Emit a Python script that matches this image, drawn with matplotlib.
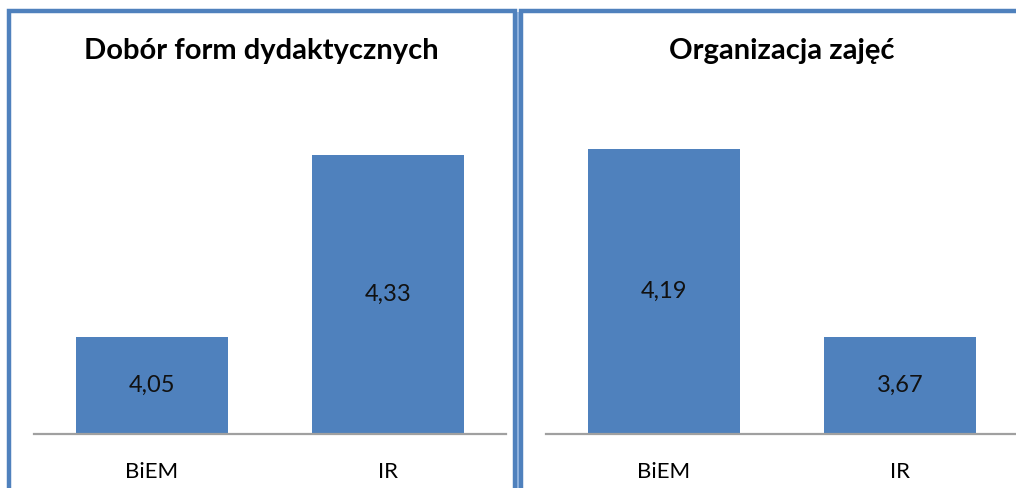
import matplotlib.pyplot as plt
from matplotlib.patches import Rectangle

# data
categories = ['BiEM', 'IR']
dobor_values = [4.05, 4.33]
organizacja_values = [4.19, 3.67]
titles = ['Dobór form dydaktycznych', 'Organizacja zajęć']
labels_dobor = ['4,05', '4,33']
labels_org = ['4,19', '3,67']

W, H = 1016, 488
fig = plt.figure(figsize=(W / 100, H / 100), dpi=100)
plt.rcParams['font.family'] = ['Lato', 'DejaVu Sans']

bar_colour = '#4F81BD'
border_colour = '#4F81BD'


def px(x0, y0, x1, y1):
    # pixel box (top-left origin) -> figure fraction rect
    return [x0 / W, 1 - y1 / H, (x1 - x0) / W, (y1 - y0) / H]


# panel borders
for (x0, x1) in [(8.5, 515), (521, 1030)]:
    fig.patches.append(Rectangle((x0 / W, -0.1), (x1 - x0) / W, 1 - 10.5 / H + 0.1,
                                 transform=fig.transFigure, fill=False,
                                 edgecolor=border_colour, linewidth=3.2))
fig.patches.append(Rectangle((517 / W, 0), 2 / W, 1 - 12 / H, transform=fig.transFigure,
                             facecolor='#8DB0DC', edgecolor='none'))


def make_panel(box, values, labels, ylim, title, title_x):
    ax = fig.add_axes(px(*box))
    ax.bar(range(len(values)), values, width=0.644, color=bar_colour, zorder=2)
    ax.set_xlim(-0.5, len(values) - 0.5)
    ax.set_ylim(*ylim)
    for i, (v, lab) in enumerate(zip(values, labels)):
        ax.text(i, (v + ylim[0]) / 2, lab, ha='center', va='center', fontsize=17, color='#111111')
    for s in ['top', 'right', 'left']:
        ax.spines[s].set_visible(False)
    ax.spines['bottom'].set_color('#A0A0A0')
    ax.spines['bottom'].set_linewidth(1.6)
    ax.set_yticks([])
    ax.set_xticks(range(len(values)))
    ax.set_xticklabels(categories, fontsize=16)
    ax.tick_params(axis='x', length=0, pad=20)
    fig.text(title_x / W, 1 - 51 / H, title, ha='center', va='center',
             fontsize=21, fontweight='bold')


make_panel((34, 109, 506, 434), dobor_values, labels_dobor, (3.9, 4.4), titles[0], 261)
make_panel((546, 109, 1018, 434), organizacja_values, labels_org, (3.4, 4.3), titles[1], 782)

fig.savefig('out.png', dpi=100)
